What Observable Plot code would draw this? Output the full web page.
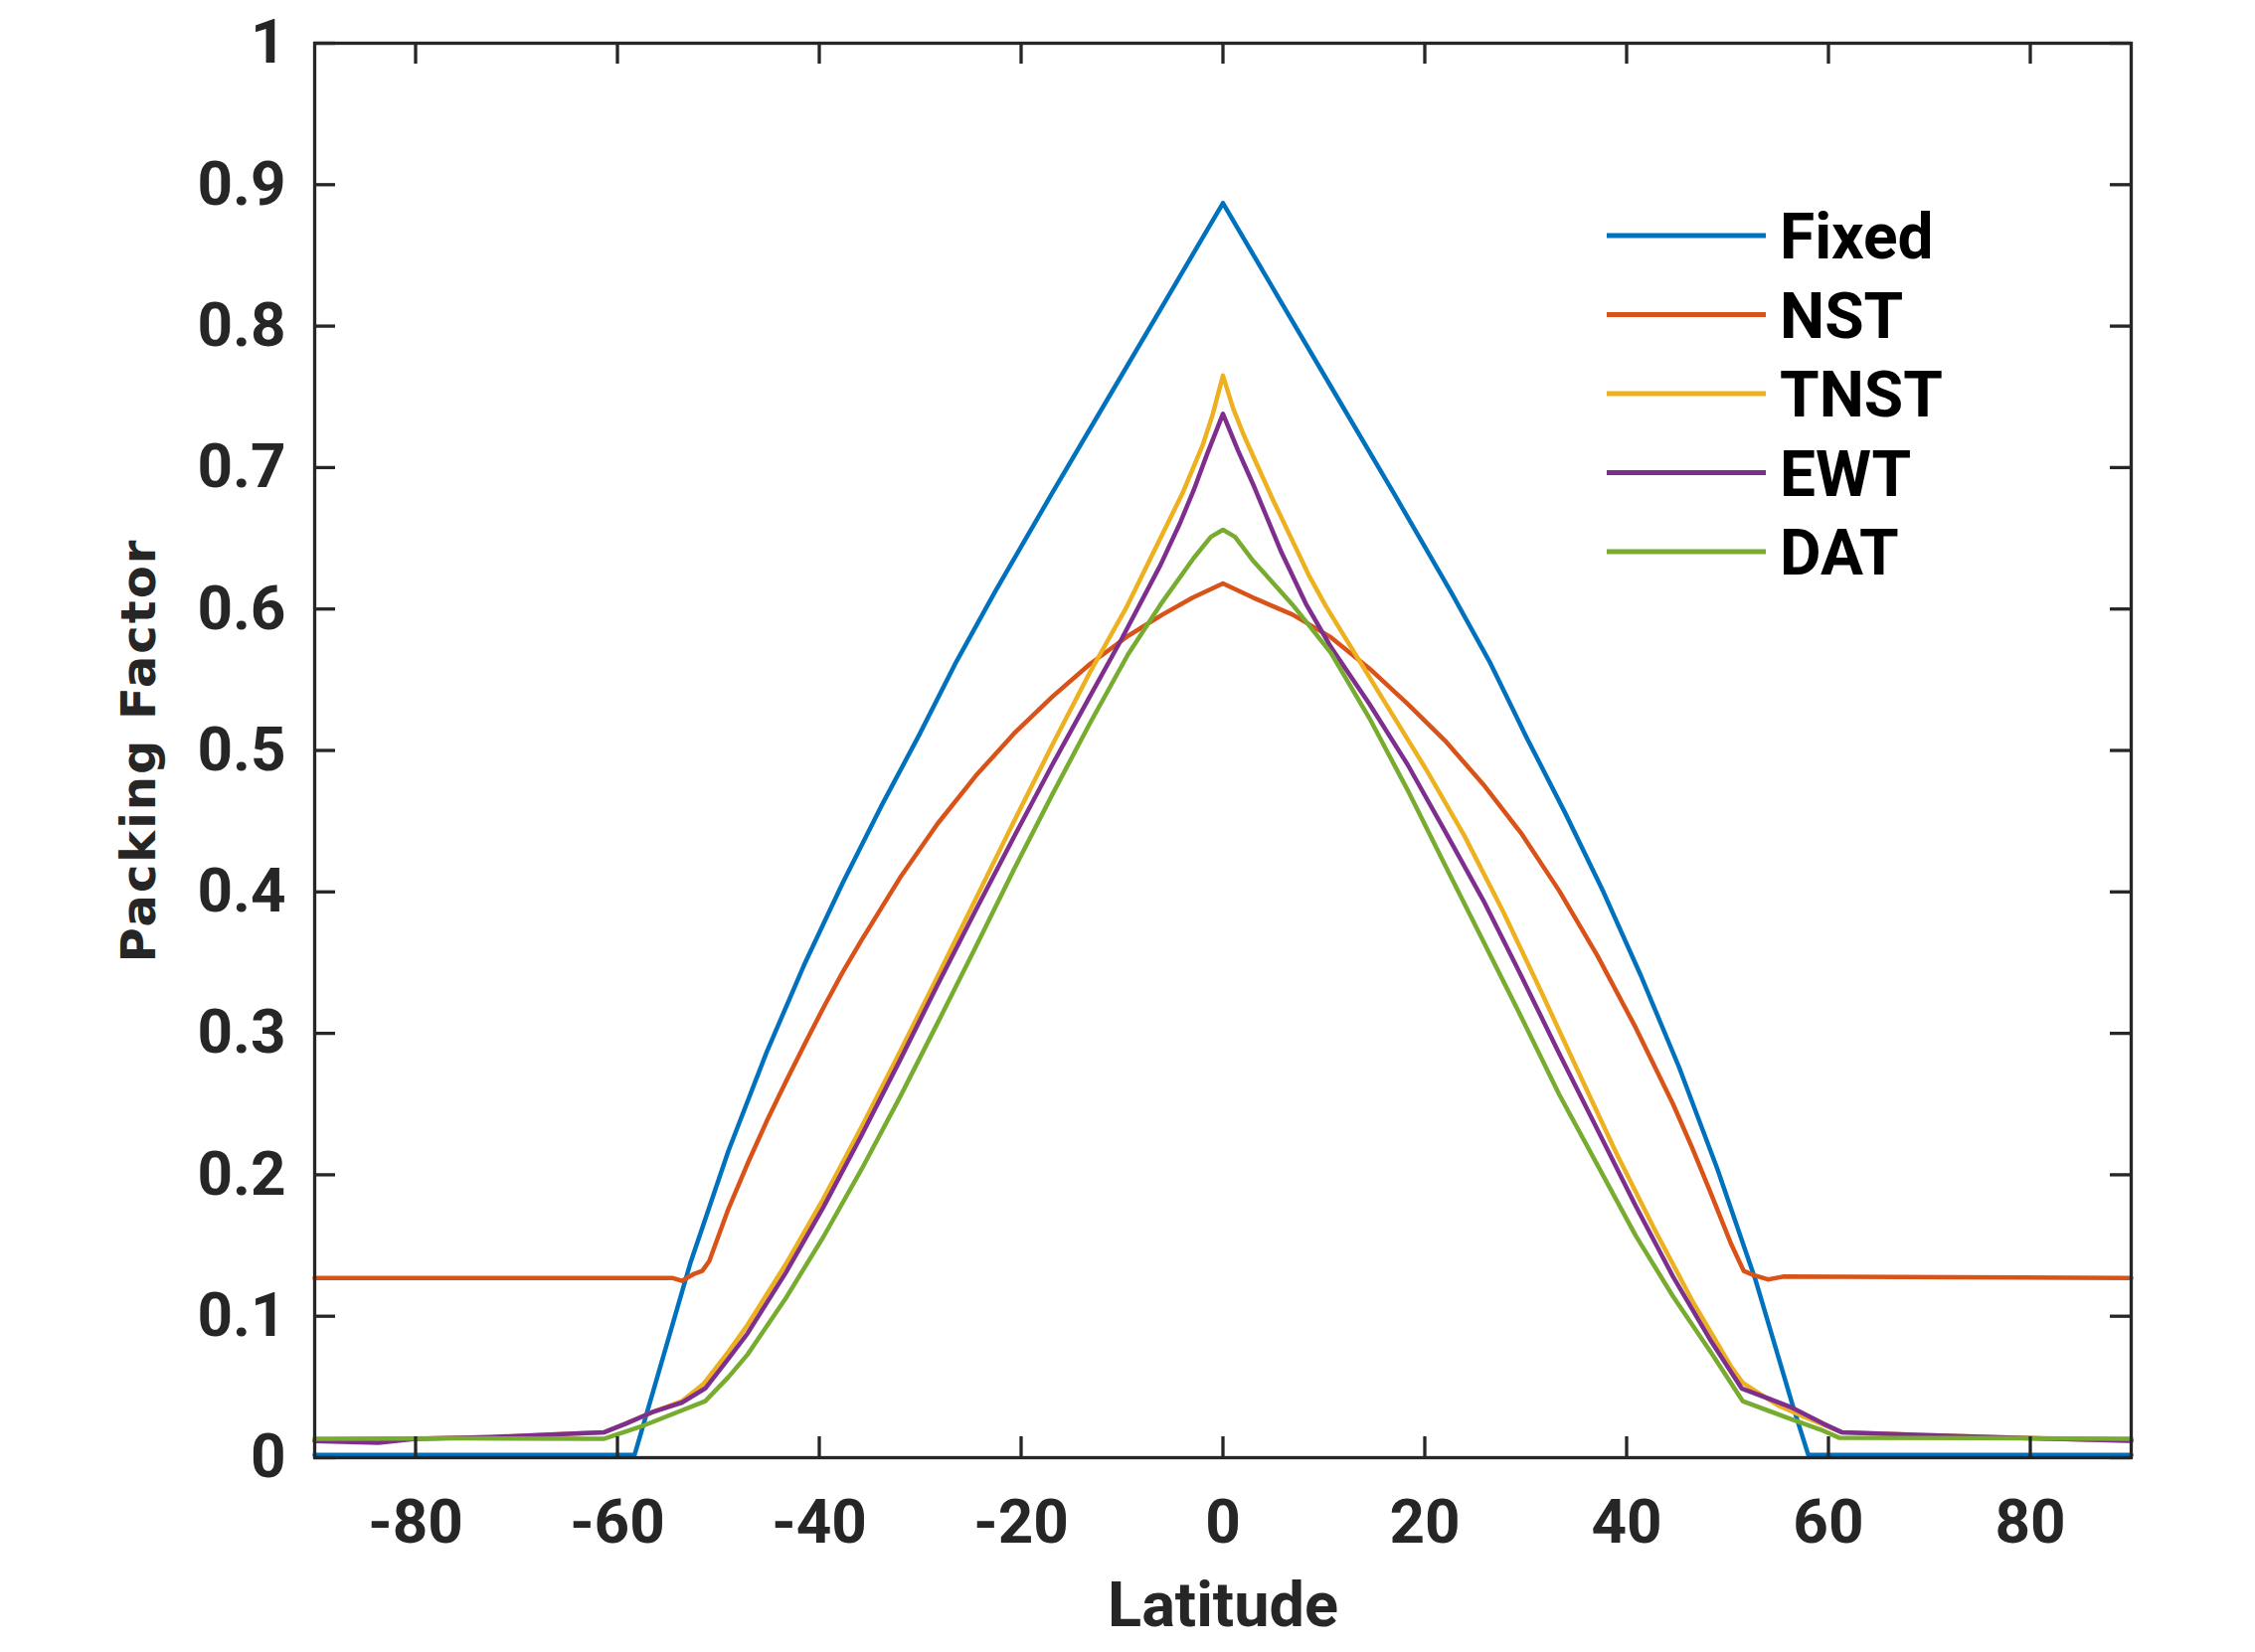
<!DOCTYPE html>
<html>
<head>
<meta charset="utf-8">
<script src="https://cdn.jsdelivr.net/npm/d3@7"></script>
<script src="https://cdn.jsdelivr.net/npm/@observablehq/plot@0.6"></script>
<style>
  html, body { margin: 0; padding: 0; background: #fff; }
  #chart svg { display: block; }
</style>
</head>
<body>
<div id="chart"></div>
<script>
// ---- data ----
const seriesNames = ["Fixed", "NST", "TNST", "EWT", "DAT"];
const seriesColors = ["#0072BD", "#D95319", "#EDB120", "#7E2F8E", "#77AC30"];

const latFixed = [-90, -58.3, -56.5, -52.8, -49.0, -45.2, -41.4, -37.7, -33.9, -30.1, -26.4, -22.6, -17.0, -11.3, -5.6, 0, 5.6, 11.3, 17.0, 22.6, 26.4, 30.1, 33.9, 37.7, 41.4, 45.2, 49.0, 52.8, 56.5, 58.0, 90];
const valFixed = [0.002, 0.002, 0.046, 0.137, 0.217, 0.287, 0.350, 0.406, 0.460, 0.511, 0.563, 0.612, 0.681, 0.750, 0.819, 0.887, 0.819, 0.750, 0.681, 0.612, 0.563, 0.509, 0.456, 0.400, 0.341, 0.276, 0.204, 0.125, 0.036, 0.002, 0.002];

const latNST = [-90, -56.0, -54.5, -53.6, -52.4, -51.6, -50.9, -49.0, -47.1, -45.2, -43.3, -41.4, -39.6, -37.7, -35.8, -32.0, -28.3, -24.5, -20.7, -16.9, -13.2, -9.4, -6.0, -3.0, 0, 3.0, 6.9, 10.7, 14.5, 18.3, 22.0, 25.8, 29.6, 33.3, 37.1, 40.9, 44.6, 46.5, 48.4, 50.3, 51.6, 52.6, 54.0, 55.5, 90];
const valNST = [0.127, 0.127, 0.127, 0.125, 0.130, 0.132, 0.139, 0.176, 0.208, 0.238, 0.266, 0.293, 0.318, 0.343, 0.366, 0.410, 0.448, 0.482, 0.512, 0.538, 0.561, 0.581, 0.596, 0.608, 0.618, 0.608, 0.596, 0.580, 0.558, 0.533, 0.507, 0.476, 0.441, 0.401, 0.355, 0.304, 0.250, 0.219, 0.186, 0.152, 0.132, 0.129, 0.126, 0.128, 0.127];

const latTNST = [-90, -80, -72.4, -64.9, -61.3, -59.2, -56.6, -53.6, -51.5, -49.0, -47.1, -43.3, -39.6, -35.8, -32.0, -28.3, -24.5, -20.7, -16.9, -13.2, -9.5, -6.2, -4.0, -2.0, -1.0, 0, 1.0, 2.0, 3.0, 4.9, 6.9, 8.5, 10.2, 12.6, 16.4, 20.1, 23.9, 27.7, 31.5, 35.2, 39.0, 42.8, 46.5, 50.3, 51.5, 55.0, 57.9, 61.3, 69.3, 79.2, 90];
const valTNST = [0.012, 0.0134, 0.0146, 0.0169, 0.018, 0.024, 0.032, 0.040, 0.052, 0.075, 0.094, 0.137, 0.183, 0.234, 0.287, 0.340, 0.395, 0.450, 0.504, 0.555, 0.602, 0.650, 0.682, 0.716, 0.738, 0.765, 0.742, 0.724, 0.708, 0.678, 0.648, 0.624, 0.602, 0.574, 0.530, 0.487, 0.440, 0.387, 0.330, 0.273, 0.215, 0.161, 0.111, 0.065, 0.053, 0.037, 0.028, 0.018, 0.016, 0.014, 0.012];

const latEWT = [-90, -83.7, -80, -72.4, -64.9, -61.3, -59.2, -56.6, -53.6, -51.3, -49.0, -47.1, -43.3, -39.6, -35.8, -32.0, -28.3, -24.5, -20.7, -16.9, -13.2, -10.1, -6.2, -4.3, -2.9, -1.6, 0, 1.5, 3.0, 5.8, 8.2, 10.7, 14.5, 18.3, 22.0, 25.8, 29.6, 33.3, 37.1, 40.9, 44.6, 48.4, 51.4, 56.2, 59.5, 61.3, 69.3, 79.2, 90];
const valEWT = [0.0118, 0.0106, 0.0134, 0.0146, 0.0169, 0.018, 0.024, 0.032, 0.039, 0.049, 0.070, 0.088, 0.131, 0.177, 0.228, 0.281, 0.334, 0.387, 0.439, 0.490, 0.538, 0.578, 0.631, 0.660, 0.684, 0.709, 0.738, 0.712, 0.688, 0.640, 0.604, 0.573, 0.533, 0.490, 0.443, 0.394, 0.340, 0.286, 0.232, 0.178, 0.128, 0.082, 0.049, 0.036, 0.024, 0.018, 0.016, 0.0139, 0.012];

const latDAT = [-90, -75, -61.3, -57.3, -51.3, -49.0, -47.1, -43.3, -39.6, -35.8, -32.0, -28.3, -24.5, -20.7, -16.9, -13.2, -9.4, -6.2, -2.9, -1.2, 0, 1.2, 3.0, 6.9, 10.7, 14.5, 18.3, 22.0, 25.8, 29.6, 33.3, 37.1, 40.9, 44.6, 48.4, 51.5, 56.2, 59.5, 61.1, 75, 90];
const valDAT = [0.0134, 0.0137, 0.0134, 0.023, 0.040, 0.057, 0.073, 0.113, 0.156, 0.204, 0.255, 0.307, 0.361, 0.416, 0.469, 0.519, 0.568, 0.603, 0.636, 0.651, 0.656, 0.651, 0.634, 0.603, 0.569, 0.523, 0.472, 0.419, 0.365, 0.311, 0.257, 0.207, 0.157, 0.114, 0.074, 0.040, 0.0275, 0.019, 0.014, 0.0138, 0.0134];

const xTicks = [-80, -60, -40, -20, 0, 20, 40, 60, 80];
const yTicks = [0, 0.1, 0.2, 0.3, 0.4, 0.5, 0.6, 0.7, 0.8, 0.9, 1];
const xLabel = "Latitude";
const yLabel = "Packing Factor";

// ---- build table ----
const lats = [latFixed, latNST, latTNST, latEWT, latDAT];
const vals = [valFixed, valNST, valTNST, valEWT, valDAT];
const rows = seriesNames.flatMap((s, i) => lats[i].map((la, j) => ({series: s, lat: la, value: vals[i][j]})));

// ---- layout ----
const W = 2268, H = 1662;
const mTop = 43, mRight = 125, mBottom = 196, mLeft = 316;
const plotW = W - mLeft - mRight, plotH = H - mTop - mBottom;
const tickLen = 21;
const tx = tickLen * 180 / plotW;   // tick length in data units (x)
const ty = tickLen * 1 / plotH;     // tick length in data units (y)
const axisColor = "#262626";
const axisW = 3.3;

const chart = Plot.plot({
  width: W,
  height: H,
  marginTop: mTop,
  marginRight: mRight,
  marginBottom: mBottom,
  marginLeft: mLeft,
  style: {fontFamily: "Roboto", fontWeight: "bold", fontSize: "62px", color: axisColor, background: "#fff"},
  x: {domain: [-90, 90]},
  y: {domain: [0, 1]},
  color: {domain: seriesNames, range: seriesColors},
  marks: [
    Plot.line(rows, {x: "lat", y: "value", z: "series", stroke: "series", strokeWidth: 4.5, strokeLinejoin: "round"}),
    // inward ticks on all four sides
    Plot.ruleX(xTicks, {x: d => d, y1: 0, y2: ty, stroke: axisColor, strokeWidth: axisW}),
    Plot.ruleX(xTicks, {x: d => d, y1: 1 - ty, y2: 1, stroke: axisColor, strokeWidth: axisW}),
    Plot.ruleY(yTicks, {y: d => d, x1: -90, x2: -90 + tx, stroke: axisColor, strokeWidth: axisW}),
    Plot.ruleY(yTicks, {y: d => d, x1: 90 - tx, x2: 90, stroke: axisColor, strokeWidth: axisW}),
    Plot.frame({stroke: axisColor, strokeWidth: axisW}),
    Plot.axisX({ticks: xTicks, tickSize: 0, tickPadding: 41, tickFormat: d => String(d), label: null, fontSize: 62}),
    Plot.axisY({ticks: yTicks, tickSize: 0, tickPadding: 29, tickFormat: d => String(d), label: null, fontSize: 62}),
    Plot.text([xLabel], {frameAnchor: "bottom", dy: 169, lineAnchor: "bottom", text: d => d, fontSize: 63, fontWeight: "bold", fill: axisColor}),
    Plot.text([yLabel], {frameAnchor: "left", dx: -161, rotate: -90, lineAnchor: "bottom", textAnchor: "middle", text: d => d, fontSize: 48, fontWeight: "bold", fontFamily: "DejaVu Sans", fill: axisColor})
  ]
});

// ---- legend inside the axes (top right) ----
const svg = d3.select(chart);
svg.selectAll("text").filter(function() { return this.textContent === yLabel; }).style("letter-spacing", "2px");
const leg = svg.append("g").attr("class", "legend");
const lx1 = W - mRight - 527, lx2 = W - mRight - 367, ltx = W - mRight - 353;
const ly0 = mTop + 194, lstep = 79.5;
seriesNames.forEach((s, i) => {
  const y = ly0 + i * lstep;
  leg.append("line").attr("x1", lx1).attr("x2", lx2).attr("y1", y).attr("y2", y)
    .attr("stroke", seriesColors[i]).attr("stroke-width", 5);
  leg.append("text").attr("x", ltx).attr("y", y).attr("dy", "0.36em")
    .attr("text-anchor", "start")
    .attr("font-family", "Roboto").attr("font-weight", "bold").attr("font-size", 64)
    .attr("fill", "#000").text(s);
});

document.getElementById("chart").appendChild(chart);
</script>
</body>
</html>
